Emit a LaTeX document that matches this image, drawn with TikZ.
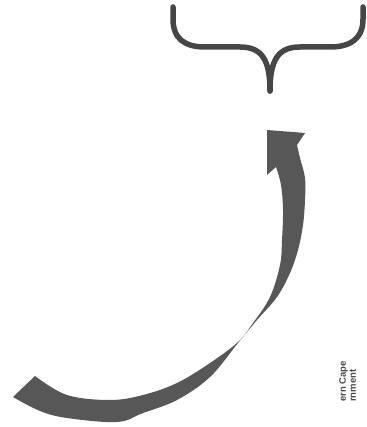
\documentclass[tikz,border=0pt]{standalone}
\usepackage{fontspec}
\setmainfont{Liberation Sans}
\begin{document}
\begin{tikzpicture}[x=1pt,y=1pt,
  bracestyle/.style={draw=bracegray,line width=5.5pt,line cap=round,line join=round},
  arrowstyle/.style={fill=arrowgray,draw=none},
  labelstyle/.style={text=labelgray,font=\fontsize{9.5}{10}\selectfont\bfseries,inner sep=0pt,align=left}]
\definecolor{bracegray}{HTML}{464646}
\definecolor{arrowgray}{HTML}{575757}
\definecolor{labelgray}{HTML}{484848}
\useasboundingbox (0,0) rectangle (366,427);
% brace (y = 427 - pixel y)
\draw[bracestyle] (173,420) -- (173,408) .. controls (173,388) and (185,380) .. (205,380) -- (240,380) .. controls (262,380) and (270,367) .. (270,336);
\draw[bracestyle] (363,420) -- (363,408) .. controls (363,388) and (350,380) .. (330,380) -- (300,380) .. controls (278,380) and (270,367) .. (270,336);
% curved arrow
\fill[arrowstyle]
  plot[smooth,tension=0.6] coordinates {(13,30) (40,16) (67,9) (117,5) (143,14) (177,27) (210,50) (238,84) (257,107) (277,130) (290,154) (298,177) (303,202) (305,227) (305,249) (300,269) (297,282)}
  -- (305,294) -- (267,297) -- (267,252) -- (276,260)
  -- plot[smooth,tension=0.6] coordinates {(276,260) (281,242) (283,217) (282,187) (280,162) (270,130) (253,104) (238,85) (210,64) (177,44) (143,32) (110,27) (67,32) (35,51)}
  -- cycle;
% label
\node[labelstyle,rotate=90,anchor=north west] (lbl) at (339,25) {ern Cape\\rnment};
\end{tikzpicture}
\end{document}
